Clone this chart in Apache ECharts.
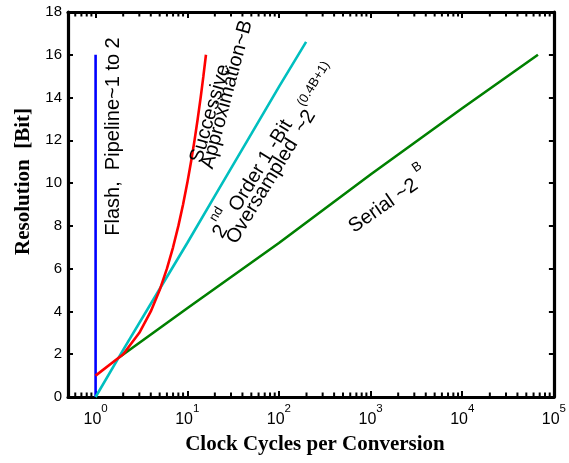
<!DOCTYPE html>
<html><head><meta charset="utf-8">
<script src="https://cdn.jsdelivr.net/npm/echarts@6/dist/echarts.min.js"></script>
<style>html,body{margin:0;padding:0;background:#fff}#c{width:569px;height:463px}</style>
</head><body><div id="c"></div>
<script>
// ---- data ----
const yTickValues = [0, 2, 4, 6, 8, 10, 12, 14, 16, 18];
const xTickExponents = [0, 1, 2, 3, 4, 5];
const flashCycles = [1, 1];
const flashBits = [0, 16];
const saCycles = [1, 2, 3, 4, 5, 6, 7, 8, 9, 10, 11, 12, 13, 14, 15, 16];
const saBits = [1, 2, 3, 4, 5, 6, 7, 8, 9, 10, 11, 12, 13, 14, 15, 16];
const ovsCycles = [1, 2, 5, 10, 20, 50, 100, 198];
const ovsBits = [0, 2.2, 5.05, 7.2, 9.4, 12.3, 14.5, 16.6];
const serialCycles = [1.8, 10, 100, 1000, 10000, 67000];
const serialBits = [1.85, 4.15, 7.2, 10.4, 13.5, 16];

const zip = (a, b) => a.map((v, i) => [v, b[i]]);
const X_MIN = 0.5, X_MAX = 1e5, Y_MIN = 0, Y_MAX = 18;

// minor log ticks (2..9 x 10^k) inside the x range
const minorTicks = [];
for (let k = -1; k <= 4; k++) for (let m = 2; m <= 9; m++) {
  const v = m * Math.pow(10, k);
  if (v > X_MIN && v < X_MAX) minorTicks.push([v, 0]);
}

const SANS = '"Liberation Sans", Arial, sans-serif';
const SERIF = '"Liberation Serif", "Times New Roman", serif';

const chart = echarts.init(document.getElementById('c'), null, {renderer: 'canvas'});

function xLabel(v) {
  const l = Math.log10(v), e = Math.round(l);
  if (Math.abs(l - e) > 1e-6 || xTickExponents.indexOf(e) < 0) return '';
  return '{b|10}{s|' + e + '}';
}

const axisLine = {show: true, onZero: false, lineStyle: {color: '#000', width: 3.2}};
const majorTick = {show: true, inside: true, length: 6, lineStyle: {color: '#000', width: 2}};

const option = {
  animation: false,
  backgroundColor: '#fff',
  grid: {left: 68, right: 13, top: 12, bottom: 66, containLabel: false},
  xAxis: [{
    type: 'log', logBase: 10, min: X_MIN, max: X_MAX, position: 'bottom',
    axisLine, axisTick: majorTick, splitLine: {show: false}, minorTick: {show: false},
    axisLabel: {
      formatter: xLabel, margin: 6, color: '#000', fontFamily: SANS,
      rich: {
        b: {fontSize: 16, fontFamily: SANS, color: '#000', padding: [9, 0, 0, 0]},
        s: {fontSize: 11.5, fontFamily: SANS, color: '#000', verticalAlign: 'top'}
      }
    },
    name: 'Clock Cycles per Conversion', nameLocation: 'middle', nameGap: 37,
    nameTextStyle: {fontFamily: SERIF, fontWeight: 'bold', fontSize: 21, color: '#000', padding: [0, 0, 0, 8]}
  }, {
    type: 'log', logBase: 10, min: X_MIN, max: X_MAX, position: 'top',
    axisLine, axisTick: majorTick, axisLabel: {show: false}, splitLine: {show: false}
  }],
  yAxis: [{
    type: 'value', min: Y_MIN, max: Y_MAX, interval: 2, position: 'left',
    axisLine, axisTick: {show: true, inside: true, length: 5, lineStyle: {color: '#000', width: 2}},
    splitLine: {show: false},
    axisLabel: {
      color: '#000', fontSize: 15, fontFamily: SANS, margin: 6,
      formatter: v => (yTickValues.indexOf(v) >= 0 ? String(v) : '')
    },
    name: 'Resolution  [Bit]', nameLocation: 'middle', nameGap: 34, nameRotate: 90,
    nameTextStyle: {fontFamily: SERIF, fontWeight: 'bold', fontSize: 21, color: '#000', padding: [0, 0, 0, 46]}
  }, {
    type: 'value', min: Y_MIN, max: Y_MAX, interval: 2, position: 'right',
    axisLine, axisTick: {show: true, inside: true, length: 5, lineStyle: {color: '#000', width: 2}},
    axisLabel: {show: false}, splitLine: {show: false}
  }],
  series: [
    {type: 'line', name: 'Flash', data: zip(flashCycles, flashBits), showSymbol: false,
     lineStyle: {color: '#0000ff', width: 2.6}, itemStyle: {color: '#0000ff'}, z: 3},
    {type: 'line', name: 'Serial', data: zip(serialCycles, serialBits), showSymbol: false,
     lineStyle: {color: '#008000', width: 2.6}, itemStyle: {color: '#008000'}, z: 3},
    {type: 'line', name: 'Oversampled', data: zip(ovsCycles, ovsBits), showSymbol: false,
     lineStyle: {color: '#00bfbf', width: 2.6}, itemStyle: {color: '#00bfbf'}, z: 4},
    {type: 'line', name: 'Successive Approximation', data: zip(saCycles, saBits), showSymbol: false,
     lineStyle: {color: '#ff0000', width: 2.6}, itemStyle: {color: '#ff0000'}, z: 5},
    {type: 'custom', name: 'minorTicks', data: minorTicks, silent: true, clip: false, z: 10,
     renderItem: function (params, api) {
       const v = api.value(0);
       const pb = api.coord([v, Y_MIN]);
       const pt = api.coord([v, Y_MAX]);
       return {type: 'group', children: [
         {type: 'line', shape: {x1: pb[0], y1: pb[1], x2: pb[0], y2: pb[1] - 4.5}, style: {stroke: '#000', lineWidth: 2}},
         {type: 'line', shape: {x1: pt[0], y1: pt[1], x2: pt[0], y2: pt[1] + 4.5}, style: {stroke: '#000', lineWidth: 2}}
       ]};
     }}
  ]
};
chart.setOption(option);

// ---- annotations (anchored in data coordinates) ----
const richSup = {
  n: {fontSize: 20, fontFamily: SANS, fill: '#000', color: '#000', padding: [9, 0, 0, 0]},
  s: {fontSize: 13, fontFamily: SANS, fill: '#000', color: '#000', verticalAlign: 'top'}
};
const annotations = [
  {x: 1.56, y: 12.18, rot: 90, text: 'Flash,  Pipeline~1 to 2'},
  {x: 17.8, y: 13.25, rot: 74, text: 'Successive'},
  {x: 27.1, y: 14.14, rot: 75, text: 'Approximation~B'},
  {x: 47, y: 10.3, rot: 58.5, text: '{n|2}{s|nd}{n| Order 1 -Bit}'},
  {x: 104, y: 11.4, rot: 58.5, text: '{n|Oversampled  ~2}{s|(0.4B+1)}'},
  {x: 1500, y: 9.3, rot: 35, text: '{n|Serial ~2 }{s|B}'}
];
const graphics = annotations.map(a => {
  const p = chart.convertToPixel({xAxisIndex: 0, yAxisIndex: 0}, [a.x, a.y]);
  return {
    type: 'text', x: p[0], y: p[1], rotation: a.rot * Math.PI / 180, z: 20,
    style: {text: a.text, fontSize: 20, fontFamily: SANS, fill: '#000',
            align: 'center', verticalAlign: 'middle', rich: richSup}
  };
});
chart.setOption({graphic: graphics});
</script>
</body></html>
